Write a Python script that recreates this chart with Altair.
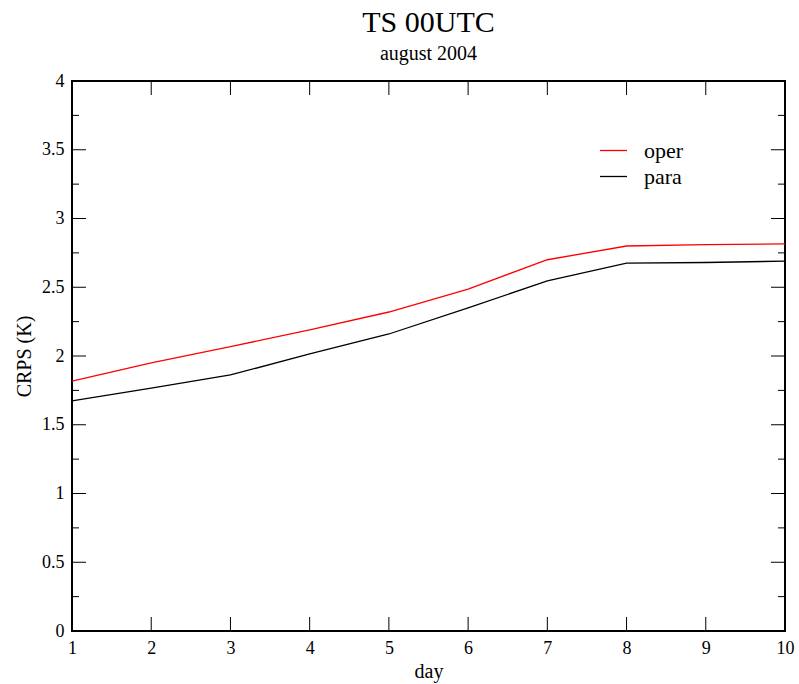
import altair as alt
import pandas as pd

days = [1, 2, 3, 4, 5, 6, 7, 8, 9, 10]
oper = [1.818, 1.95, 2.068, 2.19, 2.32, 2.487, 2.70, 2.80, 2.81, 2.815]
para = [1.673, 1.767, 1.862, 2.015, 2.16, 2.35, 2.546, 2.676, 2.68, 2.69]
series_names = ["oper", "para"]
series_colors = ["#ff0000", "#000000"]

x_major = [1, 2, 3, 4, 5, 6, 7, 8, 9, 10]
y_major = [0, 0.5, 1, 1.5, 2, 2.5, 3, 3.5, 4]
y_minor = [0.25, 0.75, 1.25, 1.75, 2.25, 2.75, 3.25, 3.75]

W, H = 713, 550
FONT = "Liberation Serif"

df = pd.DataFrame({
    "day": days * 2,
    "crps": oper + para,
    "series": ["oper"] * len(days) + ["para"] * len(days),
})

xs = alt.Scale(domain=[1, 10], nice=False, zero=False)
ys = alt.Scale(domain=[0, 4], nice=False, zero=False)

lines = alt.Chart(df).mark_line(strokeWidth=1.3).encode(
    x=alt.X("day:Q", scale=xs, title="day",
            axis=alt.Axis(values=x_major, ticks=False, domain=False, grid=False,
                          labelFontSize=18, labelFont=FONT, labelColor="black",
                          labelPadding=8, titleFont=FONT, titleFontSize=20,
                          titleFontWeight="normal", titleColor="black", titlePadding=4,
                          labelFlush=False, labelExpr="datum.value")),
    y=alt.Y("crps:Q", scale=ys, title="CRPS (K)",
            axis=alt.Axis(values=y_major, ticks=False, domain=False, grid=False,
                          labelFontSize=18, labelFont=FONT, labelColor="black",
                          labelPadding=8, titleFont=FONT, titleFontSize=20,
                          titleFontWeight="normal", titleColor="black", titlePadding=7,
                          labelFlush=False, labelExpr="datum.value")),
    color=alt.Color("series:N",
                    scale=alt.Scale(domain=series_names, range=series_colors),
                    legend=alt.Legend(title=None, orient="none", legendX=527, legendY=55,
                                      symbolType="stroke", symbolSize=729,
                                      symbolStrokeWidth=1.3, labelFont=FONT,
                                      labelFontSize=22, labelColor="black",
                                      labelOffset=16, rowPadding=0)),
)

xt = pd.DataFrame({"x": x_major})
yt = pd.DataFrame({"y": y_major})
ym = pd.DataFrame({"y": y_minor})

tick_style = dict(color="black", strokeWidth=1)
x_bottom = alt.Chart(xt).mark_rule(**tick_style).encode(
    x=alt.X("x:Q", scale=xs), y=alt.value(H), y2=alt.value(H - 14))
x_top = alt.Chart(xt).mark_rule(**tick_style).encode(
    x=alt.X("x:Q", scale=xs), y=alt.value(0), y2=alt.value(14))
y_left = alt.Chart(yt).mark_rule(**tick_style).encode(
    y=alt.Y("y:Q", scale=ys), x=alt.value(0), x2=alt.value(14))
y_right = alt.Chart(yt).mark_rule(**tick_style).encode(
    y=alt.Y("y:Q", scale=ys), x=alt.value(W), x2=alt.value(W - 14))
ym_left = alt.Chart(ym).mark_rule(**tick_style).encode(
    y=alt.Y("y:Q", scale=ys), x=alt.value(0), x2=alt.value(7))
ym_right = alt.Chart(ym).mark_rule(**tick_style).encode(
    y=alt.Y("y:Q", scale=ys), x=alt.value(W), x2=alt.value(W - 7))

chart = alt.layer(x_bottom, x_top, y_left, y_right, ym_left, ym_right, lines).properties(
    width=W, height=H,
    background="white",
    title=alt.TitleParams(text="TS 00UTC", subtitle="august 2004", font=FONT,
                          fontSize=30, fontWeight="normal", color="black",
                          subtitleFont=FONT, subtitleFontSize=20, subtitleColor="black",
                          subtitlePadding=6, anchor="middle", offset=8),
    autosize=alt.AutoSizeParams(type="none"),
    padding={"left": 72, "top": 81, "right": 14, "bottom": 53},
).configure_view(stroke="black", strokeWidth=2)

chart.save("out.html", embed_options={"renderer": "svg", "actions": False})
